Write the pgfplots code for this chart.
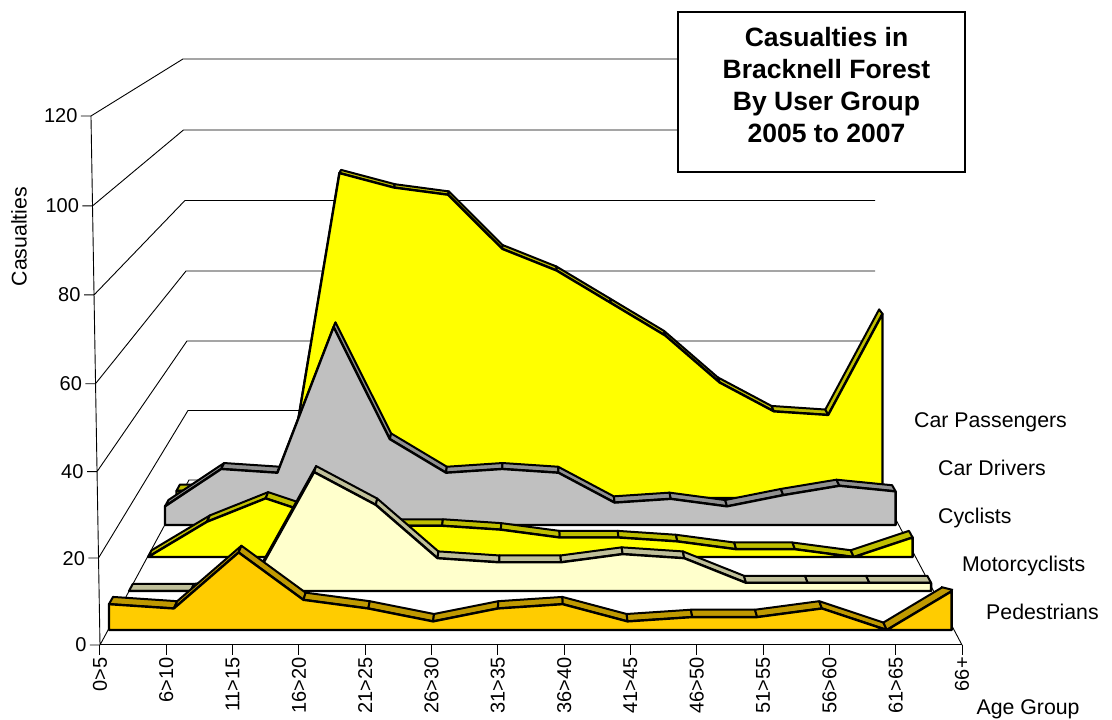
\documentclass[border=0pt]{standalone}
\usepackage{pgfplots}
\usepackage{pgfplotstable}
\usepackage{fontspec}
\setmainfont{Liberation Sans}
\pgfplotsset{compat=1.18}
\definecolor{pedface}{HTML}{FFCC00}
\definecolor{pedtop}{HTML}{BF9900}
\definecolor{motoface}{HTML}{FFFFCC}
\definecolor{mototop}{HTML}{BFBF99}
\definecolor{yelface}{HTML}{FFFF00}
\definecolor{yeltop}{HTML}{BFBF00}
\definecolor{drvface}{HTML}{C0C0C0}
\definecolor{drvtop}{HTML}{909090}

\pgfplotstableread{
v
6
5
18
7
5
2
5
6
2
3
3
5
0
9
}\pedestrians
\pgfplotstableread{
v
0
0
2
29
21
8
7
7
9
8
2
2
2
2
}\motorcyclists
\pgfplotstableread{
v
0
9
15
10
8
8
7
5
5
4
2
2
0
5
}\cyclists
\pgfplotstableread{
v
5
15
14
53
23
14
15
14
6
7
5
8
10.5
9
}\cardrivers
\pgfplotstableread{
v
2
2
0
90
86
84
69
63
54
45
32
24
23
51
}\carpassengers

\newcommand{\labelfont}{\fontsize{21.3}{25}\selectfont}
\newcommand{\tickfont}{\fontsize{20}{24}\selectfont}
% #1 table, #2 depth scale, #3 x origin, #4 y origin, #5 face colour, #6 ribbon colour
\newcommand{\drawseries}[6]{%
  \pgfplotstablegetrowsof{#1}%
  \pgfmathtruncatemacro\lastrow{\pgfplotsretval-1}%
  \pgfmathsetmacro\xbase{#3}%
  \pgfmathsetmacro\ybase{#4}%
  \edef\frontpts{(\xbase,\ybase)}%
  \pgfplotsforeachungrouped \r in {0,...,\lastrow}{%
    \pgfplotstablegetelem{\r}{v}\of{#1}%
    \pgfmathsetmacro\xf{#2*\r+#3}%
    \pgfmathsetmacro\yf{#2*\pgfplotsretval+#4}%
    \pgfmathsetmacro\xb{6.5+(\xf-6.5)*0.9905}%
    \pgfmathsetmacro\yb{181.3+(\yf-181.3)*0.9905}%
    \ifnum\r>0
      \edef\temp{\noexpand\addplot[draw=black,line width=2pt,line join=round,fill=#6]
        coordinates {(\xp,\yp)(\xf,\yf)(\xb,\yb)(\xbp,\ybp)} -- cycle;}%
      \temp
    \fi
    \edef\frontpts{\frontpts(\xf,\yf)}%
    \let\xp\xf \let\yp\yf \let\xbp\xb \let\ybp\yb
  }%
  \edef\temp{\noexpand\addplot[draw=black,line width=2.4pt,line join=round,fill=#5]
    coordinates {\frontpts(\xf,\ybase)} -- cycle;}%
  \temp
}

\begin{document}
\begin{tikzpicture}
\useasboundingbox (-100pt,-75pt) rectangle (1012pt,645pt);
\begin{axis}[
  at={(0pt,0pt)}, anchor=south west,
  scale only axis, width=862pt, height=529pt,
  xmin=0, xmax=13, ymin=0, ymax=120,
  clip=false,
  axis x line*=bottom, axis y line*=left,
  y axis line style={draw=none},
  x axis line style={line width=1pt},
  xtick={0,...,13},
  xticklabels={0>5,6>10,11>15,16>20,21>25,26>30,31>35,36>40,41>45,46>50,51>55,56>60,61>65,66+},
  ytick={0,20,...,120},
  tick align=outside,
  major tick length=10pt,
  x tick style={black,line width=1pt},
  y tick style={draw=none},
  tick label style={font=\tickfont},
  xticklabel style={rotate=90,anchor=east,inner sep=2pt},
  /pgf/number format/assume math mode=true,
  yticklabel={\pgfmathsetlengthmacro\tmpshift{\tick*0.075pt}\pgfmathsetlengthmacro\tmpdown{-\tick*(120-\tick)/1200*1pt}\raisebox{\tmpdown}[\height][\depth]{\pgfmathprintnumber{\tick}}\kern\tmpshift\relax},
  yticklabel style={anchor=east},
  xlabel={Age Group}, ylabel={Casualties},
  every axis x label/.style={at={(rel axis cs:1.0128,-0.1323)},anchor=base west,font=\labelfont},
  every axis y label/.style={at={(rel axis cs:-0.094,0.772)},rotate=90,anchor=center,font=\labelfont},
  unbounded coords=jump,
]
% walls, floor and value ticks
\addplot[black,line width=0.9pt,line join=miter] coordinates {
 (-0.136,120)(1.252,132.94)(11.688,132.94)(0,nan)
 (-0.113,99.6)(1.259,116.83)(11.688,116.83)(0,nan)
 (-0.090,79.41)(1.282,100.84)(11.688,100.84)(0,nan)
 (-0.068,59.27)(1.297,84.84)(11.688,84.84)(0,nan)
 (-0.045,39.33)(1.312,68.97)(11.688,68.97)(0,nan)
 (-0.023,19.73)(1.327,53.20)(11.688,53.20)(0,nan)
 (0,0)(1.342,37.43)(11.688,37.43)(13,0)(0,nan)
 (-0.136,120)(0,0)(0,nan)
 (-0.287,120)(-0.136,120)(0,nan)
 (-0.264,99.6)(-0.113,99.6)(0,nan)
 (-0.241,79.41)(-0.090,79.41)(0,nan)
 (-0.219,59.27)(-0.068,59.27)(0,nan)
 (-0.196,39.33)(-0.045,39.33)(0,nan)
 (-0.174,19.73)(-0.023,19.73)(0,nan)
 (-0.151,0)(0,0)
};
\drawseries{\carpassengers}{0.819}{1.1537}{33.35}{yelface}{yeltop}
\drawseries{\cardrivers}{0.8476}{0.9802}{27.22}{drvface}{drvtop}
\drawseries{\cyclists}{0.887}{0.7239}{19.96}{yelface}{yeltop}
\drawseries{\motorcyclists}{0.9305}{0.4373}{12.25}{motoface}{mototop}
\drawseries{\pedestrians}{0.9775}{0.1357}{3.403}{pedface}{pedtop}
% the last pedestrian ribbon is cut short at its far end
\addplot[draw=none,fill=white] coordinates {(12.683,13.16)(12.70,15.2)(12.95,15.2)(12.95,12.7)(12.864,12.48)} -- cycle;
\addplot[black,line width=2pt] coordinates {(12.683,13.16)(12.864,12.48)};
\end{axis}
\draw[black,line width=1.5pt,fill=white] (578pt,473pt) rectangle (865pt,633pt);
\node[font=\fontsize{26.5}{32}\selectfont\bfseries,align=center] at (726.5pt,559.5pt)
  {Casualties in\\Bracknell Forest\\By User Group\\2005 to 2007};
\node[anchor=base west,font=\labelfont,inner sep=0pt] at (814pt,217.5pt) {Car Passengers};
\node[anchor=base west,font=\labelfont,inner sep=0pt] at (838pt,169.5pt) {Car Drivers};
\node[anchor=base west,font=\labelfont,inner sep=0pt] at (838pt,121.5pt) {Cyclists};
\node[anchor=base west,font=\labelfont,inner sep=0pt] at (862pt,73.5pt) {Motorcyclists};
\node[anchor=base west,font=\labelfont,inner sep=0pt] at (886pt,25.7pt) {Pedestrians};
\end{tikzpicture}
\end{document}
